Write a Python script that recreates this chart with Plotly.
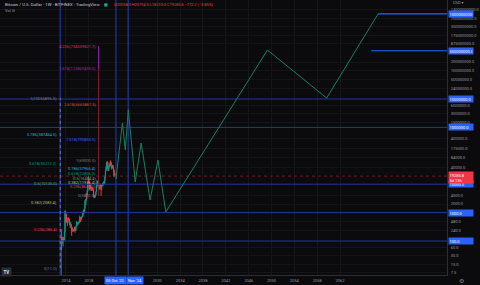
import math
import plotly.graph_objects as go

# ---------------- data ----------------
months = ["2013-03","2013-04","2013-05","2013-06","2013-07","2013-08","2013-09","2013-10","2013-11","2013-12",
"2014-01","2014-02","2014-03","2014-04","2014-05","2014-06","2014-07","2014-08","2014-09","2014-10","2014-11","2014-12",
"2015-01","2015-02","2015-03","2015-04","2015-05","2015-06","2015-07","2015-08","2015-09","2015-10","2015-11","2015-12",
"2016-01","2016-02","2016-03","2016-04","2016-05","2016-06","2016-07","2016-08","2016-09","2016-10","2016-11","2016-12",
"2017-01","2017-02","2017-03","2017-04","2017-05","2017-06","2017-07","2017-08","2017-09","2017-10","2017-11","2017-12",
"2018-01","2018-02","2018-03","2018-04","2018-05","2018-06","2018-07","2018-08","2018-09","2018-10","2018-11","2018-12",
"2019-01","2019-02","2019-03","2019-04","2019-05","2019-06","2019-07","2019-08","2019-09","2019-10","2019-11","2019-12",
"2020-01","2020-02","2020-03","2020-04","2020-05","2020-06","2020-07","2020-08","2020-09","2020-10","2020-11","2020-12",
"2021-01","2021-02","2021-03","2021-04","2021-05","2021-06","2021-07","2021-08","2021-09","2021-10","2021-11","2021-12",
"2022-01","2022-02","2022-03","2022-04","2022-05","2022-06","2022-07","2022-08","2022-09","2022-10"]
opens = [47,93,139,129,97,106,135,133,205,1130,
740,830,560,455,445,628,640,585,480,385,338,378,
320,217,254,244,236,230,263,284,230,236,314,377,
430,369,437,416,448,531,673,624,575,609,700,745,
966,970,1190,1080,1420,2450,2500,2870,4750,4360,6450,10400,
14000,10200,10300,6900,9250,7500,6400,7750,7000,6600,6330,4000,
3750,3450,3850,4100,5300,8600,10800,10100,9600,8300,9150,7550,
7200,9350,8550,6420,8630,9450,9150,11350,11650,10780,13800,19700,
29000,33100,45200,58800,57700,37300,35000,41500,47100,43800,61300,57000,
46300,38500,43200,45500,37700,31800,19950,23300,20050,19400]
highs = [95,266,140,130,111,136,140,215,1175,1165,
1020,870,720,540,630,680,650,600,500,415,455,385,
320,265,300,262,247,268,318,285,245,335,502,465,
465,445,440,466,550,780,705,625,620,720,755,975,
1150,1210,1350,1420,2800,3000,2950,4800,5000,6470,11400,19890,
17300,11800,11700,9750,10000,7800,8500,7750,7400,7700,6600,4250,
4150,4200,4150,5600,9100,13900,13200,12300,10950,10600,9500,7750,
9600,10500,9200,9450,10050,10400,11450,12500,12100,14100,19900,29300,
41950,58350,61800,64900,59600,41300,42200,50500,52900,67000,69000,59100,
48000,45800,48200,47400,40000,31900,24700,25200,22800,20500]
lows = [6,50,79,88,65,101,115,105,203,453,
740,480,440,340,420,550,565,445,360,280,325,310,
152,210,240,215,228,218,253,198,225,235,300,350,
355,365,397,412,440,525,470,470,575,605,680,740,
750,940,900,1070,1400,2100,1850,2700,2950,4150,5500,10000,
9200,6000,6600,6450,7000,5750,6100,5880,6100,6200,3550,3200,
3350,3380,3750,4050,5300,7500,9000,9300,7800,7300,6550,6450,
6850,8450,3850,6150,8150,8900,8950,10550,9850,10400,13200,17600,
28200,32300,45000,47000,30000,28800,29300,37300,39600,43300,53300,42000,
32900,34300,37200,37600,26700,17600,18800,19550,18150,18210]
closes = [93,139,129,97,106,135,133,205,1130,740,
830,560,455,445,628,640,585,480,385,338,378,320,
217,254,244,236,230,263,284,230,236,314,377,430,
369,437,416,448,531,673,624,575,609,700,745,966,
970,1190,1080,1420,2450,2500,2870,4750,4360,6450,10400,14000,
10200,10300,6900,9250,7500,6400,7750,7000,6600,6330,4000,3750,
3450,3850,4100,5300,8600,10800,10100,9600,8300,9150,7550,7200,
9350,8550,6420,8630,9450,9150,11350,11650,10780,13800,19700,29000,
33100,45200,58800,57700,37300,35000,41500,47100,43800,61300,57000,46300,
38500,43200,45500,37700,31800,19950,23300,20050,19400,19285.8]

# projected path (teal)
proj_dates = ["2022-10-05","2023-11-20","2024-05-27","2024-12-02","2026-02-18","2027-03-04",
              "2028-09-23","2030-02-11","2031-06-28","2049-04-16","2059-08-28","2068-08-25"]
proj_prices = [15000,1430000,160000,4200000,11900,283000,2780,71000,1050,530000000,10800000,9800000000]

# horizontal blue levels (full width) and rays
hlevels = [100, 1000, 10000, 1000000, 10000000]
ray_starts = ["2068-08-25", "2067-06-15"]
ray_prices = [10000000000, 500000000]

# vertical blue lines
vlines = ["2012-12-31", "2022-10-05", "2024-11-25"]

current_price = 19285.8

# fib set A (left)
fibA_date = "2012-12-31"
fibA_labels = ["1(10055895.5)","0.786(587464.5)","0.618(55222.2)","0.5(10135.0)","0.382(2083.4)","0.236(286.4)","0(11.0)"]
fibA_prices = [10800000, 586000, 55700, 10200, 2180, 264, 11.2]
fibA_colors = ["#787b86","#00bcd4","#089981","#4caf50","#a5c94a","#f23645","#787b86"]

# fib set B (right)
fibB_date = "2019-09-27"
fibB_labels = ["4.236(734559821.7)","3.618(113869455.5)","2.618(6665867.5)","1.618(390855.5)","1(69000.0)",
               "0.786(37966.4)","0.618(22856.0)","0.5(16484.4)","0.382(11936.4)","0.236(8646.1)","0(3850.5)"]
fibB_prices = [730000000, 114000000, 6670000, 390000, 69000, 37200, 22900, 16500, 11900, 8640, 3850]
fibB_colors = ["#e91e63","#9c27b0","#f23645","#2962ff","#787b86","#00bcd4","#089981","#4caf50","#a5c94a","#f23645","#787b86"]

# price axis ticks
ytick_vals = [14000000000,7000000000,3500000000,1750000000,875000000,200000000,100000000,50000000,24000000,
              6000000,3000000,1500000,400000,175000,84000,40000,4000,2000,480,240,60,30,15,7.5]
ytick_text = ["14000000000.0","7000000000.0","3500000000.0","1750000000.0","875000000.0","200000000.0",
              "100000000.0","50000000.0","24000000.0","6000000.0","3000000.0","1500000.0",
              "400000.0","175000.0","84000.0","40000.0","4000.0","2000.0","480.0","240.0","60.0","30.0","15.0","7.5"]
xtick_vals = ["2014-01-01","2018-01-01","2030-01-01","2034-01-01","2038-01-01","2042-01-01",
              "2046-01-01","2050-01-01","2054-01-01","2058-01-01","2062-01-01"]
xtick_text = ["2014","2018","2030","2034","2038","2042","2046","2050","2054","2058","2062"]

X_LEFT, X_RIGHT = "2002-06-14", "2080-09-27"
Y_LOG_RANGE = [0.803, 10.486]
Y_LO, Y_HI = 10 ** Y_LOG_RANGE[0], 10 ** Y_LOG_RANGE[1]

BG = "#0b0b0d"
TXT = "#9598a1"
BLUE = "#2962ff"
DIMBLUE = "#22389a"

fig = go.Figure()

for lv in hlevels:
    fig.add_trace(go.Scatter(x=[X_LEFT, X_RIGHT], y=[lv, lv], mode="lines",
                             line=dict(color=DIMBLUE, width=1), hoverinfo="skip", showlegend=False))
fig.add_trace(go.Scatter(x=[X_LEFT, X_RIGHT], y=[current_price, current_price], mode="lines",
                         line=dict(color="#6e1f2a", width=1, dash="dot"), hoverinfo="skip", showlegend=False))
for d in vlines:
    fig.add_trace(go.Scatter(x=[d, d], y=[Y_LO, Y_HI], mode="lines",
                             line=dict(color=DIMBLUE, width=1.2), hoverinfo="skip", showlegend=False))
for d, p in zip(ray_starts, ray_prices):
    fig.add_trace(go.Scatter(x=[d, X_RIGHT], y=[p, p], mode="lines",
                             line=dict(color=BLUE, width=1.2), hoverinfo="skip", showlegend=False))

fig.add_trace(go.Scatter(x=[fibA_date, fibA_date], y=[fibA_prices[-1], fibA_prices[0]], mode="lines",
                         line=dict(color="#787b86", width=1, dash="dot"), hoverinfo="skip", showlegend=False))
for i in range(len(fibB_prices) - 1):
    col = "#9c27b0" if i == 0 else "#8e2232"
    fig.add_trace(go.Scatter(x=[fibB_date, fibB_date], y=[fibB_prices[i], fibB_prices[i + 1]], mode="lines",
                             line=dict(color=col, width=1), hoverinfo="skip", showlegend=False))

fig.add_trace(go.Candlestick(x=months, open=opens, high=highs, low=lows, close=closes,
                             increasing=dict(line=dict(color="#089981", width=1), fillcolor="#089981"),
                             decreasing=dict(line=dict(color="#f23645", width=1), fillcolor="#f23645"),
                             whiskerwidth=0, hoverinfo="skip", showlegend=False))

fig.add_trace(go.Scatter(x=proj_dates, y=proj_prices, mode="lines",
                         line=dict(color="#16805f", width=1), hoverinfo="skip", showlegend=False))

ann = []
F = "Roboto, DejaVu Sans, sans-serif"
for lab, p, c in zip(fibA_labels, fibA_prices, fibA_colors):
    ann.append(dict(x=fibA_date, y=math.log10(p), xref="x", yref="y", text=lab, showarrow=False,
                    xanchor="right", yanchor="middle", xshift=-1, font=dict(size=4, color=c, family=F)))
for lab, p, c in zip(fibB_labels, fibB_prices, fibB_colors):
    ann.append(dict(x=fibB_date, y=math.log10(p), xref="x", yref="y", text=lab, showarrow=False,
                    xanchor="right", yanchor="middle", xshift=-1, font=dict(size=4, color=c, family=F)))

blue_tags = [(10000000000, "10000000000.0"), (500000000, "500000000.0"), (10000000, "10000000.0"),
             (1000000, "1000000.0"), (10000, "10000.0"), (1000, "1000.0"), (100, "100.0")]
for p, t in blue_tags:
    ann.append(dict(x=1.0, y=math.log10(p), xref="paper", yref="y", text=t, showarrow=False,
                    xanchor="left", yanchor="middle", xshift=1, width=23, align="left", bgcolor=BLUE,
                    borderpad=0.5, font=dict(size=4, color="#ffffff", family=F)))
ann.append(dict(x=1.0, y=math.log10(current_price), xref="paper", yref="y", text="19285.8<br>3d 13h",
                showarrow=False, xanchor="left", yanchor="middle", xshift=1, yshift=-1, width=23, align="left",
                bgcolor="#f23645", borderpad=0.5, font=dict(size=4, color="#ffffff", family=F)))

# time axis tags (placed side by side)
ann.append(dict(x=127.5 / 453, y=-0.005, xref="paper", yref="paper", text="Nov '24", showarrow=False,
                xanchor="left", yanchor="top", bgcolor=BLUE, borderpad=1,
                font=dict(size=4, color="#ffffff", family=F)))
ann.append(dict(x="2022-10-05", y=-0.005, xref="x", yref="paper", text="05 Oct '22", showarrow=False,
                xanchor="center", yanchor="top", bgcolor=BLUE, borderpad=1,
                font=dict(size=4, color="#ffffff", family=F)))

ann.append(dict(x=0.006, y=0.985, xref="paper", yref="paper",
                text="Bitcoin / U.S. Dollar · 1W · BITFINEX · TradingView", showarrow=False,
                xanchor="left", yanchor="middle", font=dict(size=4.3, color="#c8cad0", family=F)))
ann.append(dict(x=107 / 453, y=0.985, xref="paper", yref="paper", text="■", showarrow=False,
                xanchor="center", yanchor="middle", font=dict(size=4, color="#22ab94", family=F)))
ann.append(dict(x=114 / 453, y=0.985, xref="paper", yref="paper",
                text="O20058.0 H20794.0 L18210.0 C19285.8 −772.2 (−3.85%)", showarrow=False,
                xanchor="left", yanchor="middle", font=dict(size=3.9, color="#f23645", family=F)))
ann.append(dict(x=0.006, y=0.962, xref="paper", yref="paper", text="Vol ⊘", showarrow=False,
                xanchor="left", yanchor="middle", font=dict(size=4, color="#9598a1", family=F)))
ann.append(dict(x=1.0, y=0.99, xref="paper", yref="paper", text="USD ▾", showarrow=False,
                xanchor="left", yanchor="middle", xshift=4, font=dict(size=4, color="#9598a1", family=F)))
ann.append(dict(x=7 / 453, y=(275 - 272) / 275, xref="paper", yref="paper", text="<b>TV</b>", showarrow=False,
                xanchor="center", yanchor="middle", bgcolor="#2a2c33", borderpad=1.5,
                font=dict(size=4.5, color="#e0e0e0", family=F)))
ann.append(dict(x=1.0, y=-0.02, xref="paper", yref="paper", text="⚙", showarrow=False,
                xanchor="left", yanchor="middle", xshift=10, font=dict(size=6, color="#787b86", family=F)))

fig.update_layout(
    width=480, height=285, autosize=False,
    margin=dict(l=0, r=27, t=0, b=10),
    paper_bgcolor=BG, plot_bgcolor=BG,
    showlegend=False, annotations=ann,
    xaxis=dict(type="date", range=[X_LEFT, X_RIGHT], tickvals=xtick_vals, ticktext=xtick_text,
               tickfont=dict(size=4, color=TXT, family=F), ticks="", showgrid=True, gridcolor="#161619",
               gridwidth=1, zeroline=False, rangeslider=dict(visible=False), showline=True,
               linecolor="#2a2e39", linewidth=1, ticklabelstandoff=1, fixedrange=True),
    yaxis=dict(type="log", range=Y_LOG_RANGE, side="right", tickvals=ytick_vals, ticktext=ytick_text,
               tickfont=dict(size=4, color=TXT, family=F), ticks="", showgrid=True, gridcolor="#141417",
               zeroline=False, showline=True, linecolor="#2a2e39", linewidth=1, ticklabelstandoff=2,
               fixedrange=True),
)

fig.write_html("out.html")
